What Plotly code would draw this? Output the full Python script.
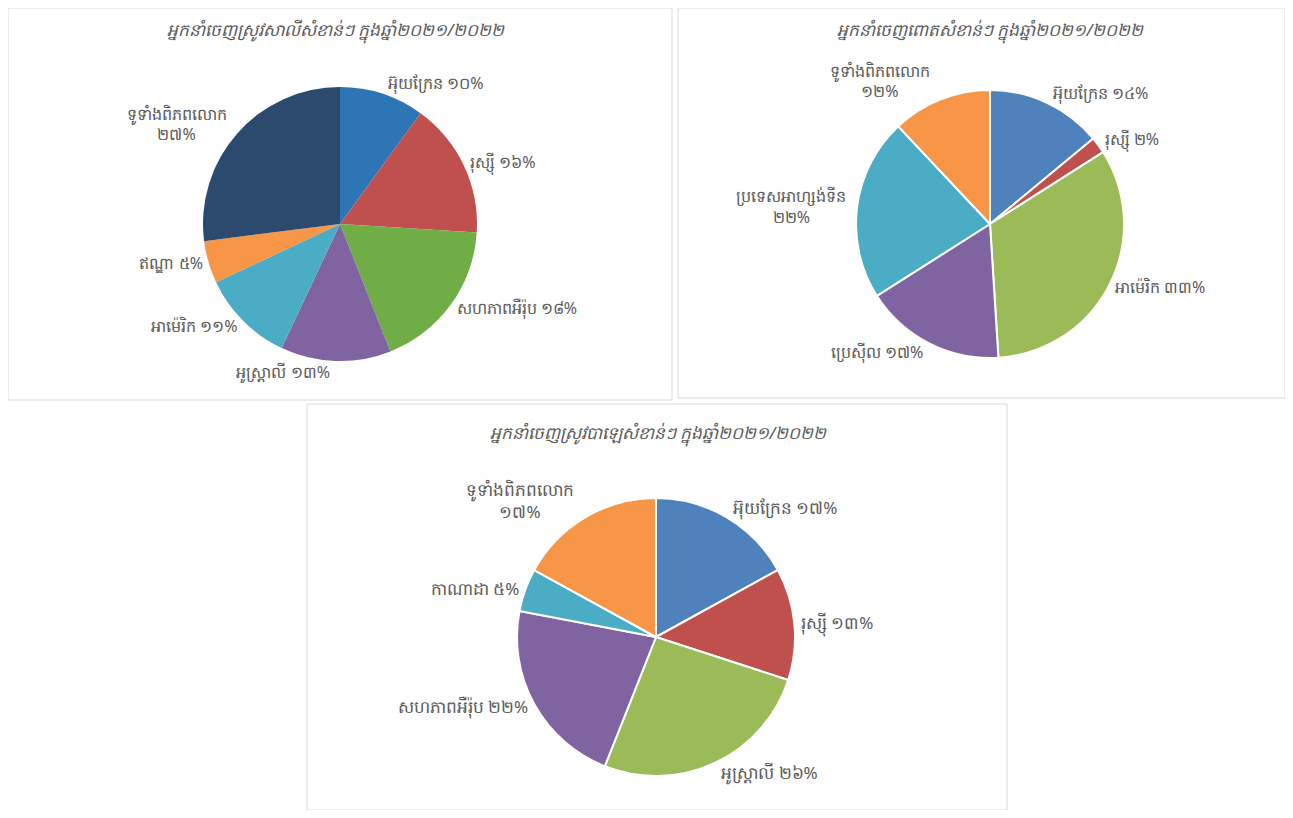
import plotly.graph_objects as go

# page body has an 8px margin, so the figure is sized to fill the window exactly
OFF = 8
W, H = 1293 - 2 * OFF, 818 - 2 * OFF

# ---- data ----
wheat_title = "អ្នកនាំចេញស្រូវសាលីសំខាន់ៗ ក្នុងឆ្នាំ២០២១/២០២២"
wheat_labels = ["អ៊ុយក្រែន", "រុស្ស៊ី", "សហភាពអឺរ៉ុប", "អូស្ត្រាលី", "អាម៉េរិក", "ឥណ្ឌា", "ទូទាំងពិភពលោក"]
wheat_values = [10, 16, 18, 13, 11, 5, 27]
wheat_colors = ["#2E75B6", "#C0504D", "#70AD47", "#8064A2", "#4BACC6", "#F79646", "#2C4A6E"]

corn_title = "អ្នកនាំចេញពោតសំខាន់ៗ ក្នុងឆ្នាំ២០២១/២០២២"
corn_labels = ["អ៊ុយក្រែន", "រុស្ស៊ី", "អាម៉េរិក", "ប្រេស៊ីល", "ប្រទេសអាហ្សង់ទីន", "ទូទាំងពិភពលោក"]
corn_values = [14, 2, 33, 17, 22, 12]
corn_colors = ["#4F81BD", "#C0504D", "#9BBB59", "#8064A2", "#4BACC6", "#F79646"]

barley_title = "អ្នកនាំចេញស្រូវបាឡេសំខាន់ៗ ក្នុងឆ្នាំ២០២១/២០២២"
barley_labels = ["អ៊ុយក្រែន", "រុស្ស៊ី", "អូស្ត្រាលី", "សហភាពអឺរ៉ុប", "កាណាដា", "ទូទាំងពិភពលោក"]
barley_values = [17, 13, 26, 22, 5, 17]
barley_colors = ["#4F81BD", "#C0504D", "#9BBB59", "#8064A2", "#4BACC6", "#F79646"]

# labels broken over two lines
two_line = {"ទូទាំងពិភពលោក", "ប្រទេសអាហ្សង់ទីន"}

KH_DIGITS = "០១២៣៤៥៦៧៨៩"


def kh(n):
    return "".join(KH_DIGITS[int(c)] for c in str(n))


def texts(labels, values):
    out = []
    for l, v in zip(labels, values):
        sep = "<br>" if l in two_line else " "
        out.append(f"{l}{sep}{kh(v)}%")
    return out


FONT = "Noto Sans, DejaVu Sans, sans-serif"
LABEL_COLOR = "#595959"


def fx(x):
    return min(max((x - OFF) / W, 0), 1)


def fy(y):
    return min(max(1 - (y - OFF) / H, 0), 1)


def circle_domain(cx, cy, r):
    return dict(x=[fx(cx - r), fx(cx + r)], y=[fy(cy + r), fy(cy - r)])


fig = go.Figure()

charts = [
    (wheat_labels, wheat_values, wheat_colors, circle_domain(340, 224, 137), 0, 16),
    (corn_labels, corn_values, corn_colors, circle_domain(990, 224, 134), 2, 16),
    (barley_labels, barley_values, barley_colors, circle_domain(656, 637, 139), 2, 17),
]

for labels, values, colors, dom, lw, fs in charts:
    fig.add_trace(go.Pie(
        labels=labels,
        values=values,
        text=texts(labels, values),
        textinfo="text",
        textposition="outside",
        sort=False,
        direction="clockwise",
        rotation=0,
        marker=dict(colors=colors, line=dict(color="white", width=lw)),
        outsidetextfont=dict(size=fs, color=LABEL_COLOR, family=FONT),
        domain=dom,
        showlegend=False,
        hoverinfo="label+percent",
    ))

# chart frames
frames = [(7, 7, 672, 400), (678, 7, 1292, 398), (307, 404, 1007, 817)]
for x0, y0, x1, y1 in frames:
    fig.add_shape(type="rect", xref="paper", yref="paper",
                  x0=fx(x0), x1=fx(x1), y0=fy(y1), y1=fy(y0),
                  line=dict(color="#D9D9D9", width=1), fillcolor="rgba(0,0,0,0)")

titles = [(wheat_title, 336, 31), (corn_title, 990, 31), (barley_title, 658, 434)]
for t, cx, cy in titles:
    fig.add_annotation(text=f"<i>{t}</i>", xref="paper", yref="paper",
                       x=fx(cx), y=fy(cy), xanchor="center", yanchor="middle",
                       showarrow=False, font=dict(size=17, color=LABEL_COLOR, family=FONT))

fig.update_layout(
    width=W, height=H,
    margin=dict(l=0, r=0, t=0, b=0, autoexpand=False),
    showlegend=False,
    paper_bgcolor="white",
    plot_bgcolor="white",
)

fig.write_html("out.html")
